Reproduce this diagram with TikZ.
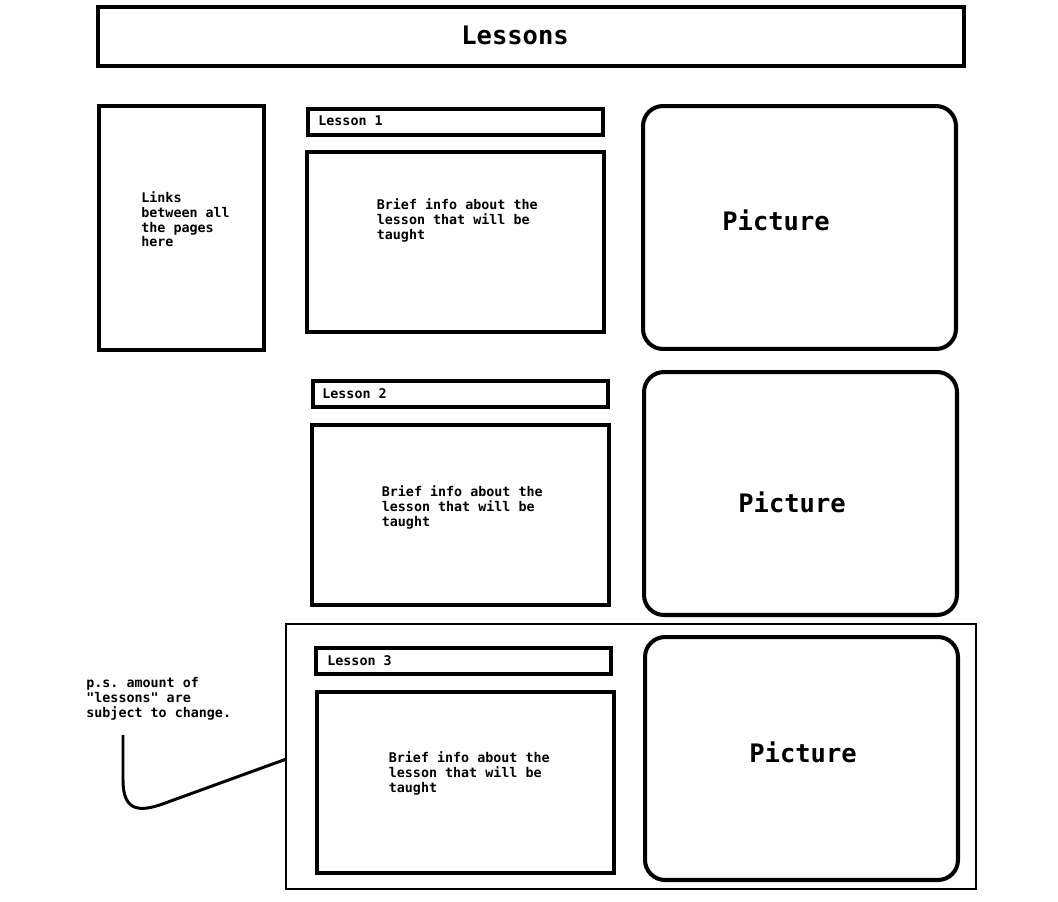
\documentclass[tikz,border=0pt]{standalone}
\usepackage{fontspec}
\setmonofont{DejaVu Sans Mono}
\usetikzlibrary{positioning}

\begin{document}
\begin{tikzpicture}[
      x=0.02cm, y=-0.02cm,
      box/.style={draw=black, line width=2.3pt, inner sep=0pt},
      headbox/.style={box, minimum width=5.9cm, minimum height=0.52cm},
      infobox/.style={box, minimum width=5.94cm, minimum height=3.6cm},
      picbox/.style={box, rounded corners=0.4cm, minimum width=6.26cm, minimum height=4.86cm},
      smalltxt/.style={inner sep=0pt, anchor=base west, align=left,
        font=\ttfamily\bfseries\fontsize{7.6pt}{8.5pt}\selectfont},
      bigtxt/.style={inner sep=0pt, anchor=base west,
        font=\ttfamily\bfseries\fontsize{14.5pt}{16pt}\selectfont}
    ]
      \useasboundingbox (0,0) rectangle (1058,902);

      % Title bar
      \node[box, minimum width=17.32cm, minimum height=1.18cm] (title) at (531,36.5) {};
      \node[bigtxt] (titletxt) at (461,45) {Lessons};

      % Links column
      \node[box, minimum width=3.3cm, minimum height=4.88cm] (links) at (181.5,228) {};
      \node[smalltxt] (linkstxt) at (141,247) {Links\\between all\\the pages\\here};

      % Lesson 1
      \node[headbox] (head1) at (455.5,122) {};
      \node[smalltxt] (head1txt) at (318,126) {Lesson 1};
      \node[infobox] (info1) at (455.5,242) {};
      \node[smalltxt] (info1txt) at (376.5,239) {Brief info about the\\lesson that will be\\taught};
      \node[picbox] (pic1) at (799.5,227.5) {};
      \node[bigtxt] (pic1txt) at (722,231) {Picture};

      % Lesson 2
      \node[headbox] (head2) at (460.5,394) {};
      \node[smalltxt] (head2txt) at (322,398) {Lesson 2};
      \node[infobox] (info2) at (460.5,515) {};
      \node[smalltxt] (info2txt) at (381.5,526) {Brief info about the\\lesson that will be\\taught};
      \node[picbox] (pic2) at (800.5,493.5) {};
      \node[bigtxt] (pic2txt) at (738,512) {Picture};

      % Lesson 3, inside its frame
      \node[draw=black, line width=1.15pt, inner sep=0pt, minimum width=13.8cm, minimum height=5.3cm] (frame3) at (631,756.5) {};
      \node[headbox] (head3) at (463.5,661) {};
      \node[smalltxt] (head3txt) at (327,665) {Lesson 3};
      \node[infobox, minimum height=3.62cm] (info3) at (465.5,782.5) {};
      \node[smalltxt] (info3txt) at (388.5,792) {Brief info about the\\lesson that will be\\taught};
      \node[picbox] (pic3) at (801.5,758.5) {};
      \node[bigtxt] (pic3txt) at (749,762) {Picture};

      % Note and its curve to the frame
      \node[smalltxt] (note) at (86,717) {p.s. amount of\\"lessons" are\\subject to change.};
      \coordinate (curvetop) at (123,735);
      \draw[line width=1.7pt] (curvetop) -- (123,780) .. controls (123,814) and (142,812) .. (168,802) -- ([yshift=-0.06cm]frame3.west);
    \end{tikzpicture}
\end{document}
